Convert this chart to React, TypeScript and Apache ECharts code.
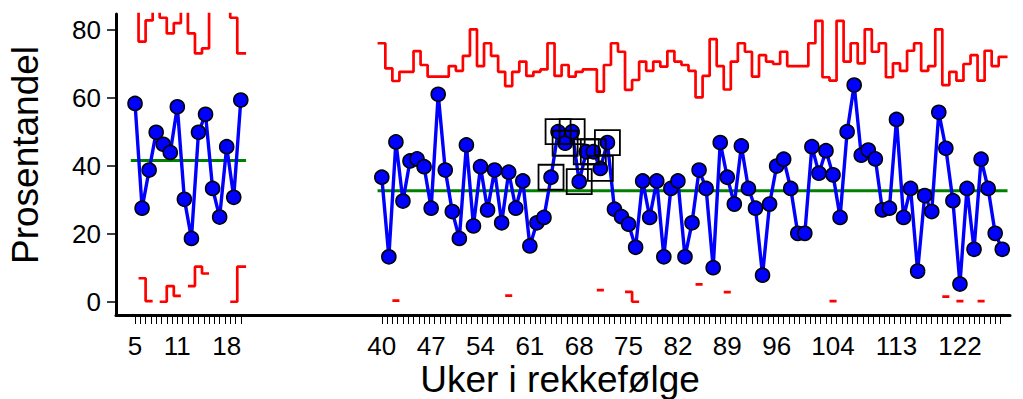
import React, { useEffect, useRef } from "react";
import * as echarts from "echarts";

// Period 1: weeks 5–20, period 2: weeks 40–128 (percent share per week)
const period1FirstWeek = 5;
const period2FirstWeek = 40;

const share1 = [58.4, 27.6, 38.8, 49.9, 46.4, 44.0, 57.4, 30.2, 18.7, 49.9, 55.2, 33.4, 25.0, 45.7, 30.8, 59.4];

const share2 = [
  36.7, 13.3, 47.1, 29.7, 41.5, 42.1, 39.8, 27.6, 61.1, 38.8,
  26.6, 18.7, 46.2, 22.4, 39.8, 27.1, 38.8, 23.3, 38.2, 27.6,
  35.6, 16.5, 23.3, 24.9, 36.7, 50.1, 46.7, 50.1, 35.4, 44.2,
  44.2, 39.3, 46.9, 27.3, 25.1, 22.9, 16.1, 35.6, 24.9, 35.6,
  13.3, 33.4, 35.6, 13.3, 23.3, 38.8, 33.4, 10.1, 46.9, 36.7,
  28.8, 45.9, 33.4, 27.6, 7.9, 28.8, 40.0, 42.0, 33.4, 20.2,
  20.2, 45.7, 37.9, 44.5, 37.4, 24.9, 50.1, 63.8, 43.2, 44.7,
  42.1, 27.1, 27.6, 53.7, 24.9, 33.4, 9.1, 31.3, 26.6, 55.8,
  45.2, 29.8, 5.3, 33.4, 15.5, 42.0, 33.4, 20.2, 15.5,
];

const center1 = 41.6;
const center2 = 32.7;

// Upper control limits (values above the plot top are cut off by the grid)
const ucl1 = [88.0, 76.6, 82.8, 88.0, 83.6, 79.0, 82.0, 88.0, 79.0, 73.1, 74.6, 88.0, 88.0, 88.0, 83.6, 73.1];
const ucl2 = [
  76.1, 68.7, 65.0, 67.7, 67.7, 73.8, 69.7, 66.3, 66.3, 66.3,
  69.4, 68.0, 72.4, 80.2, 69.4, 76.1, 72.4, 67.7, 63.5, 67.7,
  70.7, 66.5, 67.7, 68.4, 76.1, 66.5, 69.7, 66.3, 67.7, 68.4,
  68.4, 61.9, 69.7, 76.1, 73.6, 62.4, 65.3, 70.7, 68.0, 70.7,
  69.2, 73.8, 70.7, 69.7, 68.0, 60.2, 66.5, 77.3, 69.4, 62.5,
  70.7, 76.1, 73.6, 66.3, 72.6, 70.7, 70.0, 73.6, 69.4, 69.4,
  69.4, 76.1, 82.7, 66.1, 65.1, 82.7, 70.7, 76.1, 70.2, 80.2,
  73.6, 76.1, 66.1, 70.2, 68.0, 73.9, 76.1, 68.0, 69.4, 80.2,
  63.8, 67.7, 65.1, 70.0, 72.6, 65.1, 73.9, 69.4, 72.1,
];

// Lower control limits (null where the limit falls below zero)
const lcl1 = [null, 7.0, 0.3, null, 0.1, 4.7, 1.8, null, 4.7, 10.4, 8.4, null, null, null, 0.1, 10.4];
const lcl2 = [
  null, null, 0.4, null, null, null, null, null, null, null,
  null, null, null, null, null, null, null, null, 1.9, null,
  null, null, null, null, null, null, null, null, null, null,
  null, 3.5, null, null, null, 3.0, 0.1, null, null, null,
  null, null, null, null, null, 5.2, null, null, null, 2.9,
  null, null, null, null, null, null, null, null, null, null,
  null, null, null, null, 0.3, null, null, null, null, null,
  null, null, null, null, null, null, null, null, null, null,
  1.6, null, 0.3, null, null, 0.3, null, null, null,
];

// Weeks belonging to a run of points on one side of the centre line
const runWeeks = [64, 65, 66, 67, 68, 69, 70, 71, 72];

const xLabelWeeks = [5, 11, 18, 40, 47, 54, 61, 68, 75, 82, 89, 96, 104, 113, 122];
const yLabelValues = [0, 20, 40, 60, 80];

const FONT = "'Liberation Sans', Arial, Helvetica, sans-serif";

function weeksFor(first: number, values: unknown[]): number[] {
  return values.map((_, i) => first + i);
}

function points(first: number, values: number[]) {
  return values.map((v, i) => [first + i, v]);
}

// Stepped limit line: each week holds its limit over a one-week span
function stepped(first: number, values: (number | null)[], lead = 0.6, tail = 0.75) {
  const out: (number | string)[][] = [];
  values.forEach((v, i) => {
    const w = first + i;
    if (v === null) {
      out.push([w, "-"]);
      return;
    }
    const a = i === 0 ? w - lead : w - 0.5;
    const b = i === values.length - 1 ? w + tail : w + 0.5;
    out.push([a, v], [b, v]);
  });
  return out;
}

function tickPositions(from: number, to: number, step: number) {
  const out: number[] = [];
  for (let t = from; t <= to + 1e-9; t += step) out.push(Math.round(t * 100) / 100);
  return out;
}

export default function App() {
  const ref = useRef<HTMLDivElement>(null);

  useEffect(() => {
    if (!ref.current) return;
    const chart = echarts.init(ref.current, undefined, { renderer: "svg" });

    const weeks1 = weeksFor(period1FirstWeek, share1);
    const weeks2 = weeksFor(period2FirstWeek, share2);
    const last1 = weeks1[weeks1.length - 1];
    const last2 = weeks2[weeks2.length - 1];

    const ticks = [
      ...tickPositions(period1FirstWeek, last1, 0.75),
      ...tickPositions(period2FirstWeek, last2, 0.75),
    ];

    const limitStyle = { color: "#ff0000", width: 2.7 };
    const limitSeries = (data: (number | string)[][]) => ({
      type: "line",
      data,
      showSymbol: false,
      symbol: "none",
      silent: true,
      connectNulls: false,
      lineStyle: limitStyle,
      z: 2,
    });

    const centreSeries = (from: number, to: number, v: number) => ({
      type: "line",
      data: [
        [from - 0.6, v],
        [to + 0.75, v],
      ],
      symbol: "none",
      silent: true,
      lineStyle: { color: "#008000", width: 3 },
      z: 3,
    });

    const shareSeries = (data: number[][]) => ({
      type: "line",
      data,
      symbol: "circle",
      symbolSize: 14,
      showAllSymbol: true,
      lineStyle: { color: "#0000ff", width: 3.4 },
      itemStyle: { color: "#0000ff", borderColor: "#000000", borderWidth: 1.6, opacity: 1 },
      z: 4,
    });

    const runPoints = runWeeks.map((w) => [w, share2[w - period2FirstWeek]]);

    chart.setOption({
      animation: false,
      backgroundColor: "#ffffff",
      grid: { left: 116, top: 14, width: 894, height: 301, containLabel: false },
      xAxis: {
        type: "value",
        min: 2.3,
        max: 129.1,
        axisLine: { show: true, onZero: false, lineStyle: { color: "#000000", width: 3 } },
        axisTick: {
          show: true,
          length: 9,
          customValues: ticks,
          lineStyle: { color: "#000000", width: 1 },
        },
        axisLabel: {
          customValues: xLabelWeeks,
          color: "#000000",
          fontSize: 26,
          fontFamily: FONT,
          margin: 18,
        },
        splitLine: { show: false },
      },
      yAxis: {
        type: "value",
        min: -3.8,
        max: 84.7,
        axisLine: { show: true, onZero: false, lineStyle: { color: "#000000", width: 3 } },
        axisTick: {
          show: true,
          length: 9,
          customValues: yLabelValues,
          lineStyle: { color: "#000000", width: 1.5 },
        },
        axisLabel: {
          customValues: yLabelValues,
          color: "#000000",
          fontSize: 26,
          fontFamily: FONT,
          margin: 15,
        },
        splitLine: { show: false },
      },
      graphic: [
        {
          type: "text",
          x: 25,
          y: 155,
          rotation: Math.PI / 2,
          style: {
            text: "Prosentandel",
            font: `37px ${FONT}`,
            fill: "#000000",
            align: "center",
            verticalAlign: "middle",
            textAlign: "center",
            textVerticalAlign: "middle",
          },
        },
        {
          type: "text",
          x: 560,
          y: 379,
          style: {
            text: "Uker i rekkefølge",
            font: `37px ${FONT}`,
            fill: "#000000",
            align: "center",
            verticalAlign: "middle",
            textAlign: "center",
            textVerticalAlign: "middle",
          },
        },
      ],
      series: [
        limitSeries(stepped(period1FirstWeek, ucl1)),
        limitSeries(stepped(period1FirstWeek, lcl1)),
        limitSeries(stepped(period2FirstWeek, ucl2)),
        limitSeries(stepped(period2FirstWeek, lcl2)),
        centreSeries(period1FirstWeek, last1, center1),
        centreSeries(period2FirstWeek, last2, center2),
        shareSeries(points(period1FirstWeek, share1)),
        shareSeries(points(period2FirstWeek, share2)),
        {
          type: "scatter",
          data: runPoints,
          symbol: "rect",
          symbolSize: 25,
          silent: true,
          itemStyle: {
            color: "rgba(0,0,0,0)",
            borderColor: "#000000",
            borderWidth: 1.8,
            opacity: 1,
          },
          z: 5,
        },
      ],
    });

    return () => chart.dispose();
  }, []);

  return (
    <div
      ref={ref}
      style={{ position: "fixed", left: 0, top: 0, width: 1023, height: 399, background: "#fff" }}
    />
  );
}
